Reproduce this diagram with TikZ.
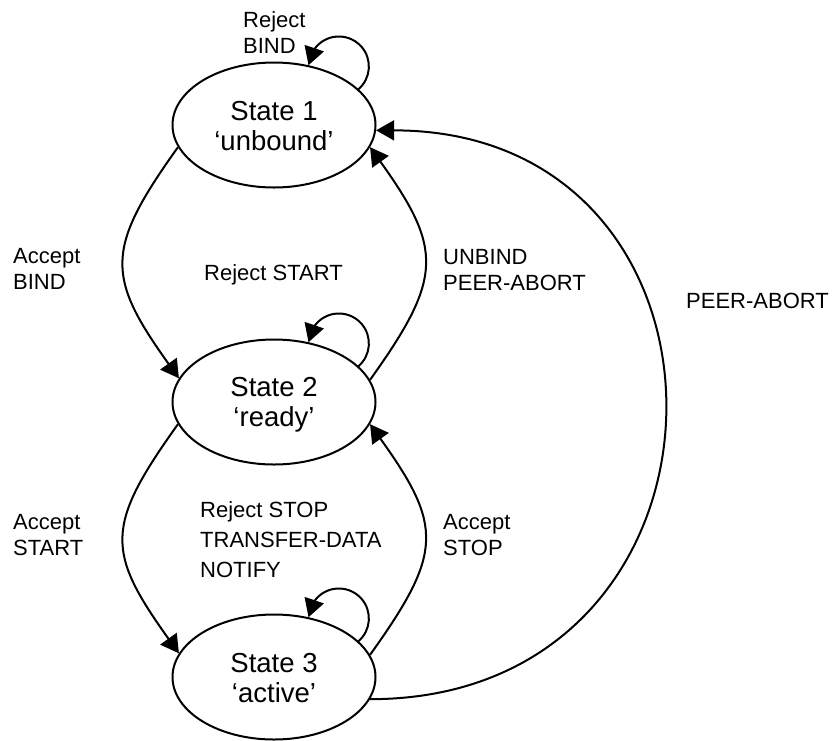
\documentclass[tikz,border=0pt]{standalone}
\usepackage{fontspec}
\setmainfont{Liberation Sans}
\usetikzlibrary{arrows.meta,shapes.geometric}
\newcommand{\zS}{\rule[-5pt]{0pt}{30pt}}
\newcommand{\zL}{\rule[-6pt]{0pt}{26pt}}
\newcommand{\zW}{\rule[-8pt]{0pt}{30pt}}
\begin{document}
\begin{tikzpicture}[x=1pt,y=-1pt,
  state/.style={ellipse,draw,line width=2pt,minimum width=203pt,minimum height=125pt,
                inner sep=0pt,align=center,font=\fontsize{27.5}{30}\selectfont},
  arr/.style={line width=2pt,-{Triangle[length=18pt,width=20pt]}},
  lbl/.style={anchor=north west,inner sep=0pt,align=left,font=\fontsize{22}{26}\selectfont},
  lblw/.style={lbl,font=\fontsize{22}{30}\selectfont}]
\useasboundingbox (0,0) rectangle (832,740);

\node[state] (s1) at (274,125) {\zS State 1\\\zS ‘unbound’};
\node[state] (s2) at (274,402) {\zS State 2\\\zS ‘ready’};
\node[state] (s3) at (274,677) {\zS State 3\\\zS ‘active’};

% self loops
\draw[arr] (s1.23.3) arc[start angle=49,end angle=-148,radius=30] -- (s1.60.5);
\draw[arr] (s2.23.3) arc[start angle=49,end angle=-148,radius=30] -- (s2.60.5);
\draw[arr] (s3.23.3) arc[start angle=49,end angle=-148,radius=30] -- (s3.60.5);

% left arcs
\draw[arr] (s1.193.5) .. controls +(-73,102) and +(-73,-102) .. (s2.166.5);
\draw[arr] (s2.193.5) .. controls +(-73,102) and +(-73,-102) .. (s3.166.5);

% right arcs
\draw[arr] (s2.13.5) .. controls +(73,-102) and +(73,102) .. (s1.-13.5);
\draw[arr] (s3.13.5) .. controls +(73,-102) and +(73,102) .. (s2.-13.5);

% big arc
\draw[arr] (s3.-13.5) .. controls +(388,0) and +(388,0) .. (s1.-3);

% labels
\node[lbl] (l1) at (243,7) {\zL Reject\\\zL BIND};
\node[lbl] (l2) at (13,243) {\zL Accept\\\zL BIND};
\node[lbl] (l3) at (204,260) {\zL Reject START};
\node[lbl] (l4) at (443,244) {\zL UNBIND\\\zL PEER-ABORT};
\node[lbl] (l5) at (686,288) {\zL PEER-ABORT};
\node[lbl] (l6) at (13,509) {\zL Accept\\\zL START};
\node[lblw] (l7) at (200,495) {\zW Reject STOP\\\zW TRANSFER-DATA\\\zW NOTIFY};
\node[lbl] (l8) at (443,509) {\zL Accept\\\zL STOP};
\end{tikzpicture}
\end{document}
